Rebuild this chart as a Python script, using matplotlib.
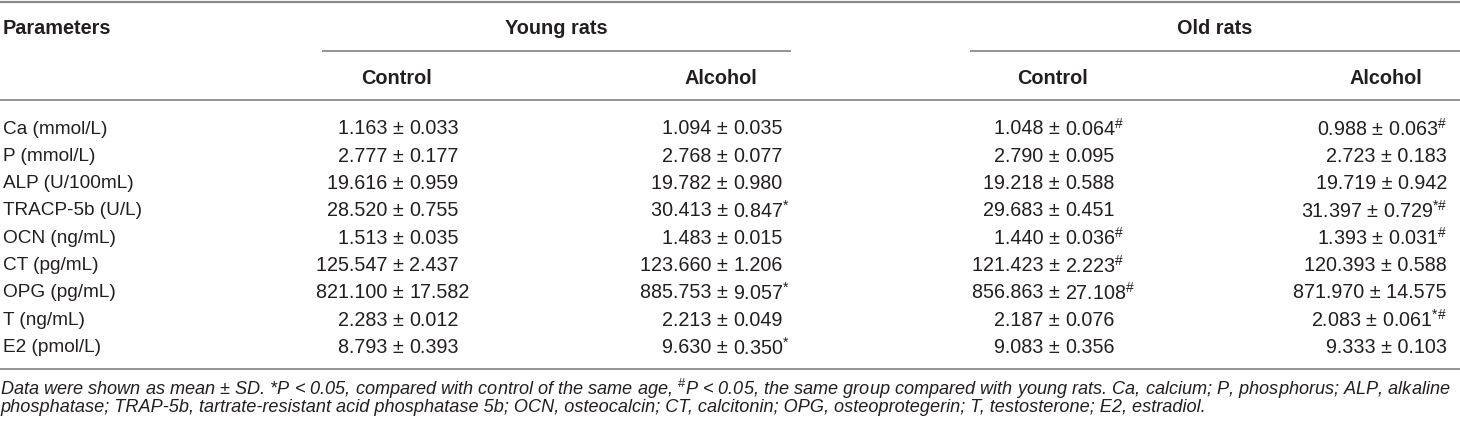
import matplotlib
matplotlib.use("Agg")
import matplotlib.pyplot as plt

plt.rcParams['font.family'] = ['Liberation Sans', 'DejaVu Sans']
plt.rcParams['mathtext.fontset'] = 'custom'
plt.rcParams['mathtext.rm'] = 'Liberation Sans'
plt.rcParams['mathtext.it'] = 'Liberation Sans:italic'
plt.rcParams['mathtext.bf'] = 'Liberation Sans:bold'

# ---------------- data ----------------
parameters = ["Ca (mmol/L)", "P (mmol/L)", "ALP (U/100mL)", "TRACP-5b (U/L)", "OCN (ng/mL)",
              "CT (pg/mL)", "OPG (pg/mL)", "T (ng/mL)", "E2 (pmol/L)"]
group_labels = ["Young rats", "Old rats"]
sub_labels = ["Control", "Alcohol", "Control", "Alcohol"]

young_control_mean = [1.163, 2.777, 19.616, 28.520, 1.513, 125.547, 821.100, 2.283, 8.793]
young_control_sd = [0.033, 0.177, 0.959, 0.755, 0.035, 2.437, 17.582, 0.012, 0.393]
young_control_mark = ["", "", "", "", "", "", "", "", ""]

young_alcohol_mean = [1.094, 2.768, 19.782, 30.413, 1.483, 123.660, 885.753, 2.213, 9.630]
young_alcohol_sd = [0.035, 0.077, 0.980, 0.847, 0.015, 1.206, 9.057, 0.049, 0.350]
young_alcohol_mark = ["", "", "", "*", "", "", "*", "", "*"]

old_control_mean = [1.048, 2.790, 19.218, 29.683, 1.440, 121.423, 856.863, 2.187, 9.083]
old_control_sd = [0.064, 0.095, 0.588, 0.451, 0.036, 2.223, 27.108, 0.076, 0.356]
old_control_mark = ["#", "", "", "", "#", "#", "#", "", ""]

old_alcohol_mean = [0.988, 2.723, 19.719, 31.397, 1.393, 120.393, 871.970, 2.083, 9.333]
old_alcohol_sd = [0.063, 0.183, 0.942, 0.729, 0.031, 0.588, 14.575, 0.061, 0.103]
old_alcohol_mark = ["#", "", "", "*#", "#", "", "", "*#", ""]

footnote_1 = (r"Data were shown as mean ± SD. *P < 0.05, compared with control of the same age, "
              r"$^{\#}$P < 0.05, the same group compared with young rats. Ca, calcium; P, phosphorus; ALP, alkaline")
footnote_2 = ("phosphatase; TRAP-5b, tartrate-resistant acid phosphatase 5b; OCN, osteocalcin; CT, calcitonin; "
              "OPG, osteoprotegerin; T, testosterone; E2, estradiol.")

# ---------------- layout ----------------
W, H = 1460, 426
fig = plt.figure(figsize=(W / 100, H / 100), dpi=100)
ax = fig.add_axes([0, 0, 1, 1])
ax.set_xlim(0, W)
ax.set_ylim(H, 0)
ax.axis("off")

TXT = "#231f20"
LINE = "#8a8a8a"
FS_HEAD = 14.3
FS_VAL = 14.2
FS_PAR = 13.7
FS_FOOT = 13.1

px_per_em = FS_VAL * 100 / 72.0
pm_half = 0.584 * px_per_em / 2
space_w = 0.278 * px_per_em

param_x = 3
col_x = [396, 721, 1052, 1386]          # header centres
pm_x = [398, 722, 1054, None]           # '±' alignment positions (None = right aligned)
right_edge_last = 1447
group_spans = [(322, 791), (970, 1460)]
y_group = 27
y_sub = 77
row_y0 = 127
row_dy = 27.3

# rules
ax.plot([0, W], [1.5, 1.5], color=LINE, lw=1.6, solid_capstyle="butt")
for (a, b) in group_spans:
    ax.plot([a, b], [51, 51], color=LINE, lw=1.3, solid_capstyle="butt")
ax.plot([0, W], [100, 100], color=LINE, lw=1.3, solid_capstyle="butt")
ax.plot([0, W], [369, 369], color=LINE, lw=1.3, solid_capstyle="butt")

# headers
ax.text(param_x, y_group, "Parameters", ha="left", va="center_baseline", fontsize=FS_HEAD,
        fontweight="bold", color=TXT)
for lab, (a, b) in zip(group_labels, group_spans):
    ax.text((a + b) / 2, y_group, lab, ha="center", va="center_baseline", fontsize=FS_HEAD,
            fontweight="bold", color=TXT)
for lab, x in zip(sub_labels, col_x):
    ax.text(x, y_sub, lab, ha="center", va="center_baseline", fontsize=FS_HEAD,
            fontweight="bold", color=TXT)

# body
columns = [
    (young_control_mean, young_control_sd, young_control_mark),
    (young_alcohol_mean, young_alcohol_sd, young_alcohol_mark),
    (old_control_mean, old_control_sd, old_control_mark),
    (old_alcohol_mean, old_alcohol_sd, old_alcohol_mark),
]


def sup(mark):
    if not mark:
        return ""
    return r"$^{" + mark.replace("#", r"\#") + r"}$"


for i, p in enumerate(parameters):
    y = row_y0 + i * row_dy
    ax.text(param_x, y, p, ha="left", va="center_baseline", fontsize=FS_PAR, color=TXT)
    for (means, sds, marks), xa in zip(columns, pm_x):
        left = f"{means[i]:.3f} ±"
        right = f"{sds[i]:.3f}" + sup(marks[i])
        if xa is None:
            ax.text(right_edge_last, y, f"{means[i]:.3f} ± {sds[i]:.3f}" + sup(marks[i]),
                    ha="right", va="center_baseline", fontsize=FS_VAL, color=TXT)
        else:
            ax.text(xa + pm_half, y, left, ha="right", va="center_baseline",
                    fontsize=FS_VAL, color=TXT)
            ax.text(xa + pm_half + space_w, y, right, ha="left", va="center_baseline",
                    fontsize=FS_VAL, color=TXT)

# footnote
ax.text(0, 386, footnote_1, ha="left", va="center_baseline", fontsize=FS_FOOT, style="italic", color=TXT)
ax.text(0, 405, footnote_2, ha="left", va="center_baseline", fontsize=FS_FOOT, style="italic", color=TXT)

fig.savefig("out.png", dpi=100)
